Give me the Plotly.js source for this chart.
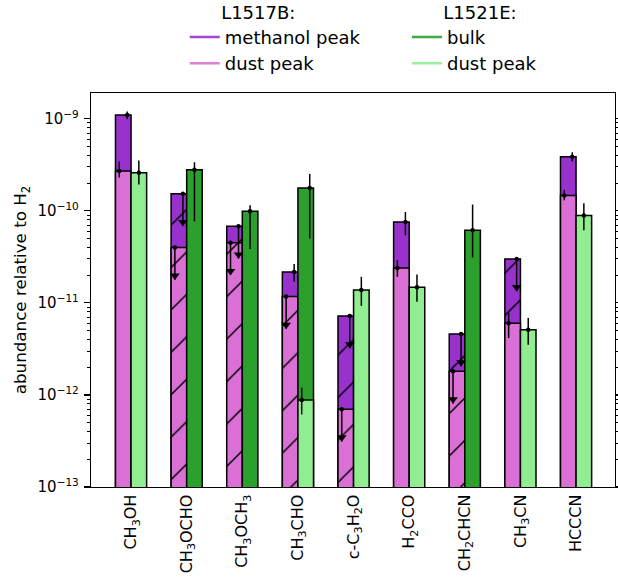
<!DOCTYPE html>
<html><head><meta charset="utf-8">
<script src="https://cdn.plot.ly/plotly-3.0.1.min.js"></script>
<style>html,body{margin:0;padding:0;background:#fff}#chart{width:618px;height:582px}</style>
</head><body><div id="chart"></div>
<script>
// ---- data ----
const categories = ["CH<sub>3</sub>OH", "CH<sub>3</sub>OCHO", "CH<sub>3</sub>OCH<sub>3</sub>", "CH<sub>3</sub>CHO",
  "c-C<sub>3</sub>H<sub>2</sub>O", "H<sub>2</sub>CCO", "CH<sub>2</sub>CHCN", "CH<sub>3</sub>CN", "HCCCN"];

const yTickVals = [1e-13, 1e-12, 1e-11, 1e-10, 1e-9];
const yTickText = ["10<sup>−13</sup>", "10<sup>−12</sup>", "10<sup>−11</sup>", "10<sup>−10</sup>", "10<sup>−9</sup>"];

// L1517B methanol peak
const mpValue = [1.1e-9, 1.53e-10, 6.8e-11, 2.16e-11, 7.2e-12, 7.57e-11, 4.58e-12, 3.0e-11, 3.88e-10];
const mpHigh  = [1.2e-9, null, null, 2.64e-11, null, 9.7e-11, null, null, 4.33e-10];
const mpLow   = [9.9e-10, null, null, 1.70e-11, null, 5.43e-11, null, null, 3.45e-10];
const mpLimit = [false, true, true, false, true, false, true, true, false];

// L1517B dust peak
const dpValue = [2.7e-10, 4.0e-11, 4.5e-11, 1.17e-11, 7.0e-13, 2.4e-11, 1.81e-12, 6.0e-12, 1.47e-10];
const dpHigh  = [3.43e-10, null, null, null, null, 2.92e-11, null, 7.85e-12, 1.69e-10];
const dpLow   = [2.30e-10, null, null, null, null, 1.92e-11, null, 4.15e-12, 1.30e-10];
const dpLimit = [false, true, true, true, true, false, true, false, false];

// L1521E bulk
const bulkValue = [null, 2.8e-10, 9.9e-11, 1.77e-10, null, null, 6.15e-11, null, null];
const bulkHigh  = [null, 3.37e-10, 1.15e-10, 2.52e-10, null, null, 1.17e-10, null, null];
const bulkLow   = [null, 7.7e-11, 3.84e-11, 5.0e-11, null, null, 3.12e-11, null, null];
const bulkLimit = [false, false, false, false, false, false, false, false, false];

// L1521E dust peak
const edpValue = [2.6e-10, null, null, 8.8e-13, 1.38e-11, 1.48e-11, null, 5.1e-12, 8.9e-11];
const edpHigh  = [3.52e-10, null, null, 1.20e-12, 1.92e-11, 2.04e-11, null, 6.84e-12, 1.21e-10];
const edpLow   = [1.93e-10, null, null, 6.15e-13, 9.3e-12, 1.03e-11, null, 3.52e-12, 6.15e-11];
const edpLimit = [false, false, false, false, false, false, false, false, false];

// ---- style ----
const C_MP = '#9932CC', C_DP = '#DA70D6', C_BULK = '#2ca02c', C_EDP = '#90EE90';
const FONT = 'DejaVu Sans, Liberation Sans, sans-serif';
const BW = 0.28, SHIFT = 0.14, EOFF = 0.072;
const ARROW = Math.pow(10, -0.35), TRI = Math.pow(10, -0.307);
const idx = categories.map((_, i) => i);

function barTrace(vals, lim, color, side) {
  return {
    type: 'bar', x: idx.map(i => i + side * SHIFT), y: vals, width: BW,
    marker: { color: color, line: { color: 'black', width: 1.5 },
      pattern: { shape: lim.map(l => l ? '/' : ''), fgcolor: 'black', bgcolor: color, size: 30, solidity: 0.05 } },
    showlegend: false, hoverinfo: 'skip'
  };
}
function errTraces(vals, hi, lo, lim, side, dxArr) {
  const xs = idx.map(i => i + side * SHIFT + dxArr[i]);
  const plus = vals.map((v, i) => v == null ? null : (lim[i] ? 0 : (hi[i] - v)));
  const minus = vals.map((v, i) => v == null ? null : (lim[i] ? v - v * ARROW : (v - lo[i])));
  const t1 = {
    type: 'scatter', mode: 'markers', x: xs, y: vals,
    marker: { color: 'black', size: 4.5 },
    error_y: { type: 'data', symmetric: false, array: plus, arrayminus: minus, color: 'black', thickness: 1.5, width: 0 },
    showlegend: false, hoverinfo: 'skip', cliponaxis: false
  };
  const t2 = {
    type: 'scatter', mode: 'markers', x: xs, y: vals.map((v, i) => (v != null && lim[i]) ? v * TRI : null),
    marker: { color: 'black', size: 8.5, symbol: 'triangle-down' },
    showlegend: false, hoverinfo: 'skip'
  };
  return [t1, t2];
}
const both1517 = idx.map(i => mpValue[i] != null && dpValue[i] != null);
const both1521 = idx.map(i => bulkValue[i] != null && edpValue[i] != null);

const traces = [
  barTrace(mpValue, mpLimit, C_MP, -1),
  barTrace(dpValue, dpLimit, C_DP, -1),
  barTrace(bulkValue, bulkLimit, C_BULK, 1),
  barTrace(edpValue, edpLimit, C_EDP, 1),
  ...errTraces(mpValue, mpHigh, mpLow, mpLimit, -1, both1517.map(b => b ? EOFF : 0)),
  ...errTraces(dpValue, dpHigh, dpLow, dpLimit, -1, both1517.map(b => b ? -EOFF : 0)),
  ...errTraces(bulkValue, bulkHigh, bulkLow, bulkLimit, 1, both1521.map(b => b ? EOFF : 0)),
  ...errTraces(edpValue, edpHigh, edpLow, edpLimit, 1, both1521.map(b => b ? -EOFF : 0)),
];
function legendTrace(name, color, lg, grp) {
  return { type: 'scatter', mode: 'lines', x: [null], y: [null], name: name, legend: lg, legendgroup: grp,
    line: { color: color, width: 2.5 }, opacity: 0.9, showlegend: true, hoverinfo: 'skip' };
}
traces.push(legendTrace('methanol peak', C_MP, 'legend', 'a'));
traces.push(legendTrace('dust peak', C_DP, 'legend', 'b'));
traces.push(legendTrace('bulk', C_BULK, 'legend2', 'c'));
traces.push(legendTrace('dust peak', C_EDP, 'legend2', 'd'));
// right mirrored axis carrier
traces.push({ type: 'scatter', mode: 'markers', x: [null], y: [null], yaxis: 'y2', showlegend: false, hoverinfo: 'skip' });

const minorVals = [];
for (let e = -13; e <= -9; e++) for (let d = 2; d <= 9; d++) minorVals.push(d * Math.pow(10, e));

const yBase = {
  type: 'log', range: [-13, -8.72], showgrid: false, zeroline: false,
  showline: true, linecolor: 'black', linewidth: 1.2,
  ticks: 'outside', ticklen: 6, tickwidth: 1.2, tickcolor: 'black',
  tickmode: 'array', tickvals: yTickVals, ticktext: yTickText,
  minor: { ticks: 'outside', ticklen: 3, tickwidth: 1, tickcolor: 'black', tickmode: 'array', tickvals: minorVals, showgrid: false }
};

const NB = '&nbsp;'.repeat(6);
const layout = {
  width: 618, height: 582,
  margin: { l: 91, r: 3, t: 93, b: 95, autoexpand: false },
  paper_bgcolor: 'white', plot_bgcolor: 'white',
  font: { family: FONT, size: 14, color: 'black' },
  barmode: 'overlay',
  xaxis: {
    range: [-0.72, 8.70], showgrid: false, zeroline: false,
    showline: true, linecolor: 'black', linewidth: 1.2, mirror: true,
    tickmode: 'array', tickvals: idx, ticktext: categories, tickangle: -90, ticks: '',
    tickfont: { size: 16 }, automargin: false
  },
  yaxis: Object.assign({}, yBase, {
    title: { text: 'abundance relative to H<sub>2</sub>', font: { size: 16.7 }, standoff: 6 },
    tickfont: { size: 15 }, ticklabelstandoff: 2, automargin: false
  }),
  yaxis2: Object.assign({}, yBase, { overlaying: 'y', side: 'right', showticklabels: false, anchor: 'x', automargin: false }),
  legend: {
    x: 0.179, y: 1.248, xanchor: 'left', yanchor: 'top', orientation: 'v',
    title: { text: NB + 'L1517B:', side: 'top', font: { size: 18 } },
    font: { size: 18 }, traceorder: 'grouped', tracegroupgap: 0, bgcolor: 'rgba(0,0,0,0)'
  },
  legend2: {
    x: 0.603, y: 1.248, xanchor: 'left', yanchor: 'top', orientation: 'v',
    title: { text: NB + 'L1521E:', side: 'top', font: { size: 18 } },
    font: { size: 18 }, traceorder: 'grouped', tracegroupgap: 0, bgcolor: 'rgba(0,0,0,0)'
  }
};
Plotly.newPlot('chart', traces, layout, { staticPlot: true, displayModeBar: false });
</script>
</body></html>
